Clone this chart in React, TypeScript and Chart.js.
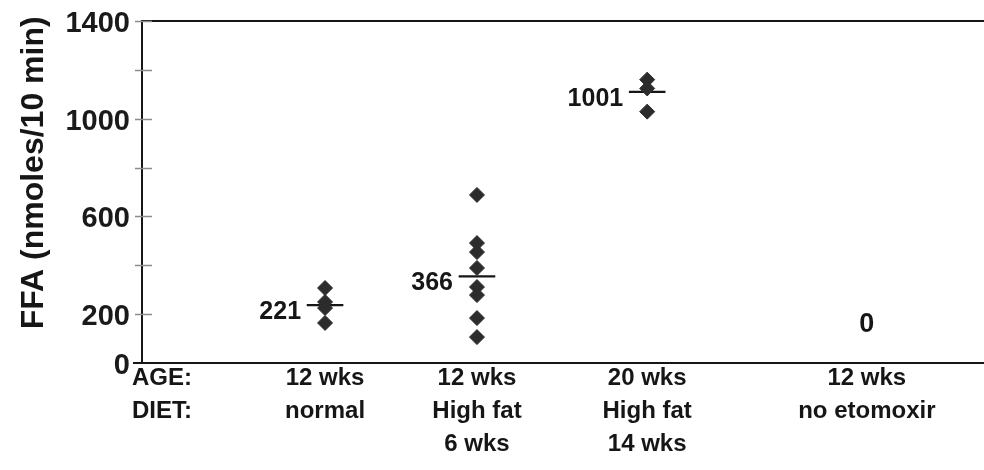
import React, { useEffect, useRef } from "react";
import { Chart, registerables } from "chart.js";

Chart.register(...registerables);

// ---- data ----
const ageLabels = ["12 wks", "12 wks", "20 wks", "12 wks"];
const dietLabels = [["normal"], ["High fat", "6 wks"], ["High fat", "14 wks"], ["no etomoxir"]];
const rowHeaders = ["AGE:", "DIET:"];
const groupPositions = [1.0, 1.83, 2.76, 3.96];
const group1Values = [307, 250, 225, 164];
const group2Values = [688, 491, 454, 389, 311, 278, 184, 106];
const group3Values = [1160, 1124, 1029];
const group4Values: number[] = [];
const groupValues = [group1Values, group2Values, group3Values, group4Values];
const meanLineValues = [237, 355, 1110, 0];
const meanLabels = ["221", "366", "1001", "0"];
const yTickLabels = [0, 200, 600, 1000, 1400];
const yTitle = "FFA (nmoles/10 min)";

const FONT = "'Liberation Sans', Arial, Helvetica, sans-serif";
const INK = "#161616";

const overlayPlugin = {
  id: "overlay",
  afterDatasetsDraw(chart: any) {
    const ctx = chart.ctx as CanvasRenderingContext2D;
    const { left, right, top, bottom } = chart.chartArea;
    const xs = chart.scales.x;
    const ys = chart.scales.y;
    ctx.save();

    // top frame line and little extension of the bottom axis
    ctx.strokeStyle = INK;
    ctx.lineWidth = 2;
    ctx.beginPath();
    ctx.moveTo(left - 1, top);
    ctx.lineTo(right, top);
    ctx.moveTo(left - 9, bottom);
    ctx.lineTo(left, bottom);
    ctx.stroke();

    // y tick marks crossing the axis
    ctx.strokeStyle = "#8c8c8c";
    ctx.lineWidth = 1.5;
    ctx.beginPath();
    ys.ticks.forEach((t: any) => {
      if (t.value <= 0) return;
      const y = Math.round(ys.getPixelForValue(t.value)) + 0.5;
      ctx.moveTo(left - 7, y);
      ctx.lineTo(left + 10, y);
    });
    ctx.stroke();

    // mean value labels
    ctx.fillStyle = INK;
    ctx.textBaseline = "middle";
    groupValues.forEach((vals, i) => {
      const x = xs.getPixelForValue(groupPositions[i]);
      const yv = ys.getPixelForValue(meanLineValues[i]);
      if (vals.length) {
        ctx.font = `bold 25px ${FONT}`;
        ctx.textAlign = "right";
        ctx.fillText(meanLabels[i], x - 24, yv + 7);
      } else {
        ctx.font = `bold 27px ${FONT}`;
        ctx.textAlign = "center";
        ctx.fillText(meanLabels[i], x, yv - 38);
      }
    });

    // category labels under the axis
    const rowY = (r: number) => bottom + 15 + r * 33;
    ctx.font = `bold 24px ${FONT}`;
    ctx.textAlign = "left";
    rowHeaders.forEach((h, r) => ctx.fillText(h, left - 10, rowY(r)));
    ctx.textAlign = "center";
    groupPositions.forEach((p, i) => {
      const x = xs.getPixelForValue(p);
      ctx.fillText(ageLabels[i], x, rowY(0));
      dietLabels[i].forEach((line, k) => ctx.fillText(line, x, rowY(1 + k)));
    });

    // y axis title
    ctx.translate(43, top + (bottom - top) * 0.444);
    ctx.rotate(-Math.PI / 2);
    ctx.font = `bold 32px ${FONT}`;
    ctx.textAlign = "center";
    ctx.textBaseline = "alphabetic";
    ctx.fillText(yTitle, 0, 0);

    ctx.restore();
  },
};

export default function App() {
  const canvasRef = useRef<HTMLCanvasElement | null>(null);

  useEffect(() => {
    document.body.style.margin = "0";
    const canvas = canvasRef.current;
    if (!canvas) return;

    const pointSets = groupValues
      .map((vals, i) => ({
        type: "scatter" as const,
        data: vals.map((v) => ({ x: groupPositions[i], y: v })),
        pointStyle: "rectRot",
        pointRadius: 7.5,
        pointBackgroundColor: "#2c2c2c",
        pointBorderColor: "#2c2c2c",
        pointBorderWidth: 1,
        showLine: false,
      }))
      .filter((d) => d.data.length > 0);

    const meanSets = groupValues
      .map((vals, i) => ({
        type: "line" as const,
        data: vals.length
          ? [
              { x: groupPositions[i] - 0.1, y: meanLineValues[i] },
              { x: groupPositions[i] + 0.1, y: meanLineValues[i] },
            ]
          : [],
        borderColor: INK,
        borderWidth: 2.2,
        pointRadius: 0,
        fill: false,
      }))
      .filter((d) => d.data.length > 0);

    const chart = new Chart(canvas, {
      type: "scatter",
      data: { datasets: [...pointSets, ...meanSets] as any },
      options: {
        animation: false,
        responsive: false,
        maintainAspectRatio: false,
        layout: { autoPadding: false, padding: { top: 21, left: 0, right: 0, bottom: 0 } },
        plugins: { legend: { display: false }, tooltip: { enabled: false } },
        scales: {
          x: {
            type: "linear",
            min: 0,
            max: 4.6,
            grid: { display: false, drawTicks: false },
            border: { display: true, color: INK, width: 2 },
            ticks: { display: false },
            afterFit: (s: any) => {
              s.height = 107;
              s.paddingLeft = 0;
              s.paddingRight = 0;
            },
          },
          y: {
            type: "linear",
            min: 0,
            max: 1400,
            grid: { display: false, drawTicks: false },
            border: { display: true, color: INK, width: 2 },
            ticks: {
              stepSize: 200,
              autoSkip: false,
              padding: 12,
              labelOffset: 3,
              color: "#1a1a1a",
              font: { family: FONT, size: 29, weight: "bold" },
              callback: (v: any) => (yTickLabels.includes(Number(v)) ? String(v) : ""),
            },
            afterFit: (s: any) => {
              s.width = 142;
              s.paddingTop = 0;
              s.paddingBottom = 0;
            },
          },
        },
      } as any,
      plugins: [overlayPlugin],
    });

    return () => chart.destroy();
  }, []);

  return (
    <div style={{ width: 984, height: 470, background: "#ffffff" }}>
      <canvas ref={canvasRef} width={984} height={470} style={{ display: "block" }} />
    </div>
  );
}
